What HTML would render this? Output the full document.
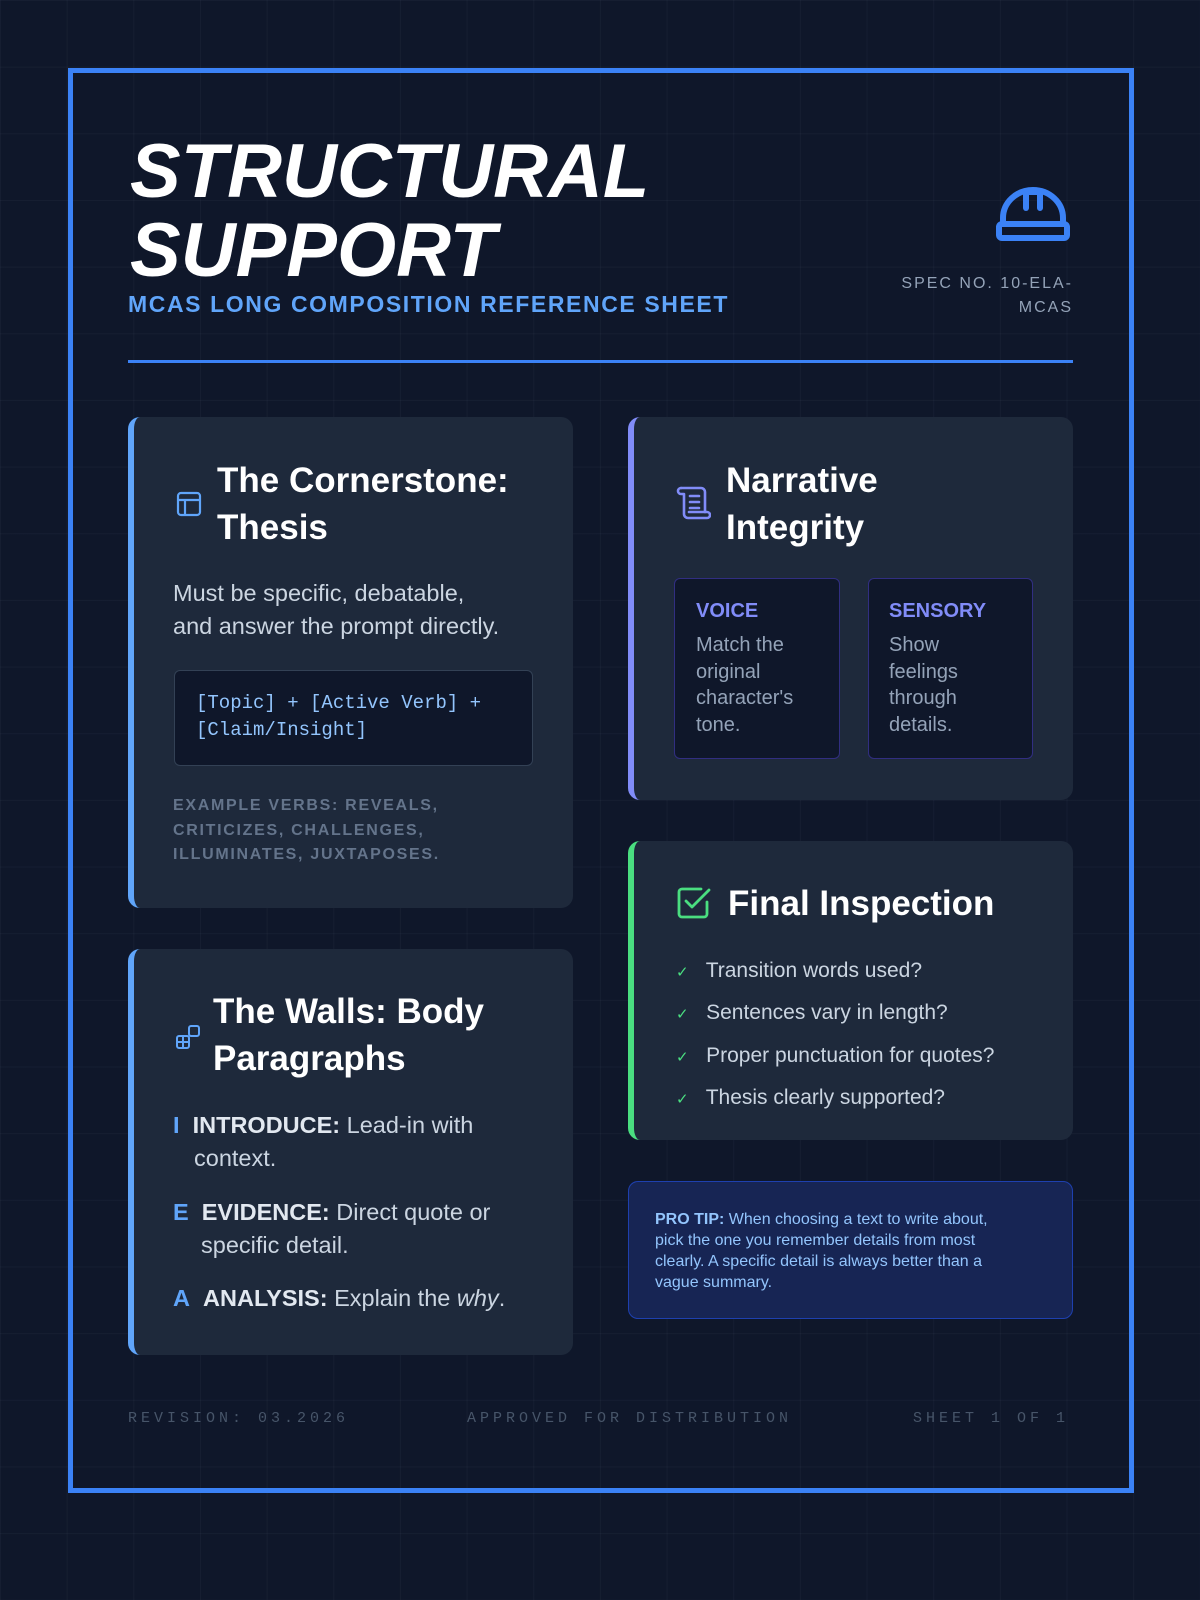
<!DOCTYPE html>
<html><head><meta charset="utf-8"><style>
*{margin:0;padding:0;box-sizing:border-box}
body{width:1200px;height:1600px;background:#0f172a;position:relative;overflow:hidden;font-family:"Liberation Sans",sans-serif;
background-image:linear-gradient(rgba(148,163,184,0.05) 1px,transparent 1px),linear-gradient(90deg,rgba(148,163,184,0.05) 1px,transparent 1px);background-size:66.67px 66.67px}
.abs{position:absolute}
.frame{left:68px;top:68px;width:1066px;height:1425px;border:5px solid #3b82f6}
.title{left:130px;top:132px;font-size:76px;font-weight:900;font-style:italic;color:#fff;line-height:79px;letter-spacing:0px;white-space:nowrap}
.sub{left:128px;top:291px;font-size:23px;font-weight:bold;color:#60a5fa;letter-spacing:1.6px;white-space:nowrap}
.spec{left:873px;top:272px;width:200px;text-align:right;font-size:16px;color:#94a3b8;letter-spacing:2px;line-height:24px}
.rule{left:128px;top:360px;width:945px;height:3px;background:#3b82f6}
.card{background:#1e293b;border-radius:12px;border-left:6px solid #60a5fa}
.h{color:#fff;font-weight:bold;font-size:35px;line-height:47px}
.p{color:#cbd5e1;font-size:23.5px;line-height:33px}
.foot{top:1410px;font-family:"Liberation Mono",monospace;font-size:15px;letter-spacing:4px;color:#475569;white-space:nowrap}
</style></head><body>
<div class="abs frame"></div>
<div class="abs title">STRUCTURAL<br>SUPPORT</div>
<div class="abs sub">MCAS LONG COMPOSITION REFERENCE SHEET</div>
<svg class="abs" style="left:995px;top:186px" width="76" height="60" viewBox="0 0 76 60"><g fill="none" stroke="#3b82f6" stroke-width="6" stroke-linejoin="round" stroke-linecap="round"><path d="M8 38 V32 A30 28 0 0 1 68 32 V38"/><path d="M31 6 H45 V22"/><path d="M31 6 V22"/><rect x="4" y="38" width="68" height="14" rx="3"/></g></svg>
<div class="abs spec">SPEC NO. 10-ELA-<br>MCAS</div>
<div class="abs rule"></div>

<!-- card 1 -->
<div class="abs card" style="left:128px;top:417px;width:445px;height:491px"></div>
<svg class="abs" style="left:176px;top:491px" width="26" height="26" viewBox="0 0 26 26"><g fill="none" stroke="#60a5fa" stroke-width="2.2"><rect x="2" y="2" width="22" height="22" rx="3"/><path d="M2 9 H24 M9 9 V24"/></g></svg>
<div class="abs h" style="left:217px;top:457px">The Cornerstone:<br>Thesis</div>
<div class="abs p" style="left:173px;top:577px">Must be specific, debatable,<br>and answer the prompt directly.</div>
<div class="abs" style="left:174px;top:670px;width:359px;height:96px;background:#0f172a;border:1.5px solid #334155;border-radius:6px"></div>
<div class="abs" style="left:196px;top:690px;font-family:'Liberation Mono',monospace;font-size:19px;line-height:27px;color:#93c5fd">[Topic] + [Active Verb] +<br>[Claim/Insight]</div>
<div class="abs" style="left:173px;top:794px;font-size:16px;font-weight:bold;letter-spacing:1.7px;line-height:24.5px;color:#64748b">EXAMPLE VERBS: REVEALS,<br>CRITICIZES, CHALLENGES,<br>ILLUMINATES, JUXTAPOSES.</div>

<!-- card 2 -->
<div class="abs card" style="left:128px;top:949px;width:445px;height:406px"></div>
<svg class="abs" style="left:175px;top:1024px" width="26" height="26" viewBox="0 0 26 26"><g fill="none" stroke="#60a5fa" stroke-width="2"><rect x="2" y="12" width="12" height="12" rx="2"/><path d="M2 18 H14 M8 12 V24"/><rect x="14" y="2" width="10" height="10" rx="2"/></g></svg>
<div class="abs h" style="left:213px;top:988px">The Walls: Body<br>Paragraphs</div>
<div class="abs p" style="left:173px;top:1109px"><b style="color:#60a5fa">I</b>&nbsp; <b style="color:#e2e8f0">INTRODUCE:</b> Lead-in with</div>
<div class="abs p" style="left:194px;top:1142px">context.</div>
<div class="abs p" style="left:173px;top:1196px"><b style="color:#60a5fa">E</b>&nbsp; <b style="color:#e2e8f0">EVIDENCE:</b> Direct quote or</div>
<div class="abs p" style="left:201px;top:1229px">specific detail.</div>
<div class="abs p" style="left:173px;top:1282px"><b style="color:#60a5fa">A</b>&nbsp; <b style="color:#e2e8f0">ANALYSIS:</b> Explain the <i>why</i>.</div>

<!-- right card 1 -->
<div class="abs card" style="left:628px;top:417px;width:445px;height:383px;border-left-color:#818cf8"></div>
<svg class="abs" style="left:675px;top:486px" width="36" height="34" viewBox="0 0 36 34"><g fill="none" stroke="#818cf8" stroke-width="2.6" stroke-linejoin="round" stroke-linecap="round"><path d="M6 2 H26 A4 4 0 0 1 30 6 V26"/><path d="M6 2 A3 3 0 0 0 6 8 H9 V28 A4 4 0 0 0 13 32 H32 A3 3 0 0 0 32 26 H14"/><path d="M15 10 H24 M15 16 H24 M15 22 H24"/></g></svg>
<div class="abs h" style="left:726px;top:457px">Narrative<br>Integrity</div>
<div class="abs" style="left:674px;top:578px;width:166px;height:181px;background:#0f172a;border:1.5px solid #312e81;border-radius:6px"></div>
<div class="abs" style="left:868px;top:578px;width:165px;height:181px;background:#0f172a;border:1.5px solid #312e81;border-radius:6px"></div>
<div class="abs" style="left:696px;top:600px;font-size:20px;font-weight:bold;color:#818cf8">VOICE</div>
<div class="abs" style="left:889px;top:600px;font-size:20px;font-weight:bold;color:#818cf8">SENSORY</div>
<div class="abs" style="left:696px;top:632px;font-size:20px;line-height:26.5px;color:#94a3b8">Match the<br>original<br>character's<br>tone.</div>
<div class="abs" style="left:889px;top:632px;font-size:20px;line-height:26.5px;color:#94a3b8">Show<br>feelings<br>through<br>details.</div>

<!-- right card 2 -->
<div class="abs card" style="left:628px;top:841px;width:445px;height:299px;border-left-color:#4ade80"></div>
<svg class="abs" style="left:677px;top:886px" width="36" height="34" viewBox="0 0 36 34"><g fill="none" stroke="#4ade80" stroke-width="2.8" stroke-linejoin="round" stroke-linecap="round"><path d="M30 16 V28 A3 3 0 0 1 27 31 H5 A3 3 0 0 1 2 28 V6 A3 3 0 0 1 5 3 H24"/><path d="M9 15 L15 21 L32 4"/></g></svg>
<div class="abs h" style="left:728px;top:880px">Final Inspection</div>
<div class="abs" style="left:676px;top:951px;font-size:21px;line-height:40.3px;color:#cbd5e1">
<div><span style="color:#4ade80;font-size:15px">✓</span>&nbsp;&nbsp; Transition words used?</div>
<div><span style="color:#4ade80;font-size:15px">✓</span>&nbsp;&nbsp; Sentences vary in length?</div>
<div><span style="color:#4ade80;font-size:15px">✓</span>&nbsp;&nbsp; Proper punctuation for quotes?</div>
<div><span style="color:#4ade80;font-size:15px">✓</span>&nbsp;&nbsp; Thesis clearly supported?</div>
</div>

<!-- pro tip -->
<div class="abs" style="left:628px;top:1181px;width:445px;height:138px;background:#172554;border:1.5px solid #1e40af;border-radius:10px"></div>
<div class="abs" style="left:655px;top:1209px;width:360px;font-size:16px;line-height:21px;color:#93c5fd"><b>PRO TIP:</b> When choosing a text to write about, pick the one you remember details from most clearly. A specific detail is always better than a vague summary.</div>

<div class="abs foot" style="left:128px">REVISION: 03.2026</div>
<div class="abs foot" style="left:467px">APPROVED FOR DISTRIBUTION</div>
<div class="abs foot" style="left:913px">SHEET 1 OF 1</div>
</body></html>
